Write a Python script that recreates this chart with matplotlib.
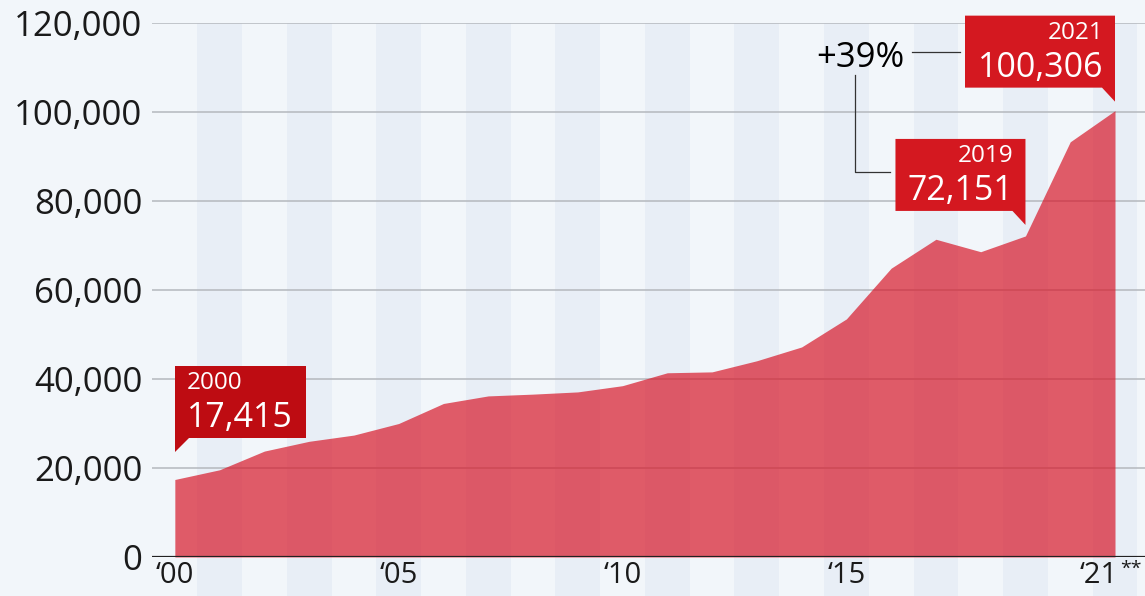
import matplotlib
matplotlib.use("Agg")
import matplotlib.pyplot as plt
from matplotlib.patches import Polygon
from matplotlib.transforms import IdentityTransform, ScaledTranslation
from matplotlib.ticker import FuncFormatter

# data
years = list(range(2000, 2022))
values = [17415, 19600, 23800, 26000, 27400, 30000, 34500, 36200, 36600, 37100,
          38500, 41400, 41600, 44100, 47200, 53500, 64900, 71400, 68600, 72151,
          93300, 100306]
tick_years = [2000, 2005, 2010, 2015, 2021]
tick_labels = ["\u201800", "\u201805", "\u201810", "\u201815", "\u201821"]

plt.rcParams["font.family"] = ["Open Sans", "DejaVu Sans"]

bg = "#f2f6fa"
band = "#e8eef6"
text_col = "#1a1a1a"

fig = plt.figure(figsize=(11.45, 5.96), dpi=100, facecolor=bg)
ax = fig.add_axes([152 / 1145, 39 / 596, 993 / 1145, 534 / 596])
ax.set_facecolor(bg)
ax.set_xlim(1999.49, 2021.67)
ax.set_ylim(0, 120000)

# alternating column bands
for y in range(2001, 2022, 2):
    ax.axvspan(y - 0.5, y + 0.5, ymin=-39 / 534, ymax=1, color=band,
               lw=0, zorder=0, clip_on=False)

# grid
for v in range(20000, 120001, 20000):
    ax.axhline(v, color="#b4b8bd", lw=1.1, zorder=1)
ax.axhline(0, color="#222222", lw=1.6, zorder=4)

# area
ax.fill_between(years, values, 0, color="#d7192a", alpha=0.7, lw=0, zorder=2)

for s in ax.spines.values():
    s.set_visible(False)
ax.set_yticks(range(0, 120001, 20000))
ax.yaxis.set_major_formatter(FuncFormatter(lambda v, p: "{:,.0f}".format(v)))
ax.set_xticks(tick_years)
ax.set_xticklabels(tick_labels)
ax.tick_params(axis="y", length=0, pad=7, labelsize=25, labelcolor=text_col)
ax.tick_params(axis="x", length=0, pad=3, labelsize=21, labelcolor=text_col)

# last tick label sits a bit left to make room for the footnote stars
last = ax.get_xticklabels()[-1]
last.set_transform(last.get_transform()
                   + ScaledTranslation(-16 / 100, 0, fig.dpi_scale_trans))

ident = IdentityTransform()
sx, _ = ax.transData.transform((years[-1], 0))
fig.text(sx + 5, 36, "**", transform=ident, fontsize=14, color=text_col,
         va="top", ha="left")


def callout(x, y, lift, side, width, year, value, color):
    tx, ty = ax.transData.transform((x, y))
    ty += lift
    bottom = ty + 14
    top = bottom + 72
    if side == "right":
        left, right = tx, tx + width
        pts = [(tx, ty), (tx, top), (right, top), (right, bottom),
               (tx + 14, bottom)]
        xt, ha = left + 12, "left"
    else:
        left, right = tx - width, tx
        pts = [(tx, ty), (tx - 13, bottom), (left, bottom), (left, top),
               (tx, top)]
        xt, ha = right - 12, "right"
    fig.patches.append(Polygon(pts, closed=True, facecolor=color, lw=0,
                               transform=ident, figure=fig, zorder=5))
    fig.text(xt, top - 23, str(year), transform=ident, ha=ha, va="baseline",
             fontsize=17.5, color="white", zorder=6)
    fig.text(xt, top - 61, "{:,}".format(value), transform=ident, ha=ha,
             va="baseline", fontsize=24.5, color="white", zorder=6)
    return left, right, bottom, top


callout(years[0], values[0], 28, "right", 131, 2000, values[0], "#be0c12")
l19, r19, b19, t19 = callout(years[19], values[19], 11, "left", 130, 2019,
                             values[19], "#d41820")
l21, r21, b21, t21 = callout(years[21], values[21], 9, "left", 150, 2021,
                             values[21], "#d41820")

# +39% label with connectors
fig.text(l21 - 105, t21 - 42, "+39%", transform=ident, ha="center",
         va="center", fontsize=25, color="black")
fig.lines.append(plt.Line2D([l21 - 53, l21 - 5], [t21 - 36, t21 - 36],
                            color="#333333", lw=0.9, transform=ident))
fig.lines.append(plt.Line2D([l21 - 110, l21 - 110, l19 - 5],
                            [t21 - 59, t19 - 33, t19 - 33],
                            color="#333333", lw=0.9, transform=ident))

fig.savefig("out.png", dpi=100, facecolor=bg)
